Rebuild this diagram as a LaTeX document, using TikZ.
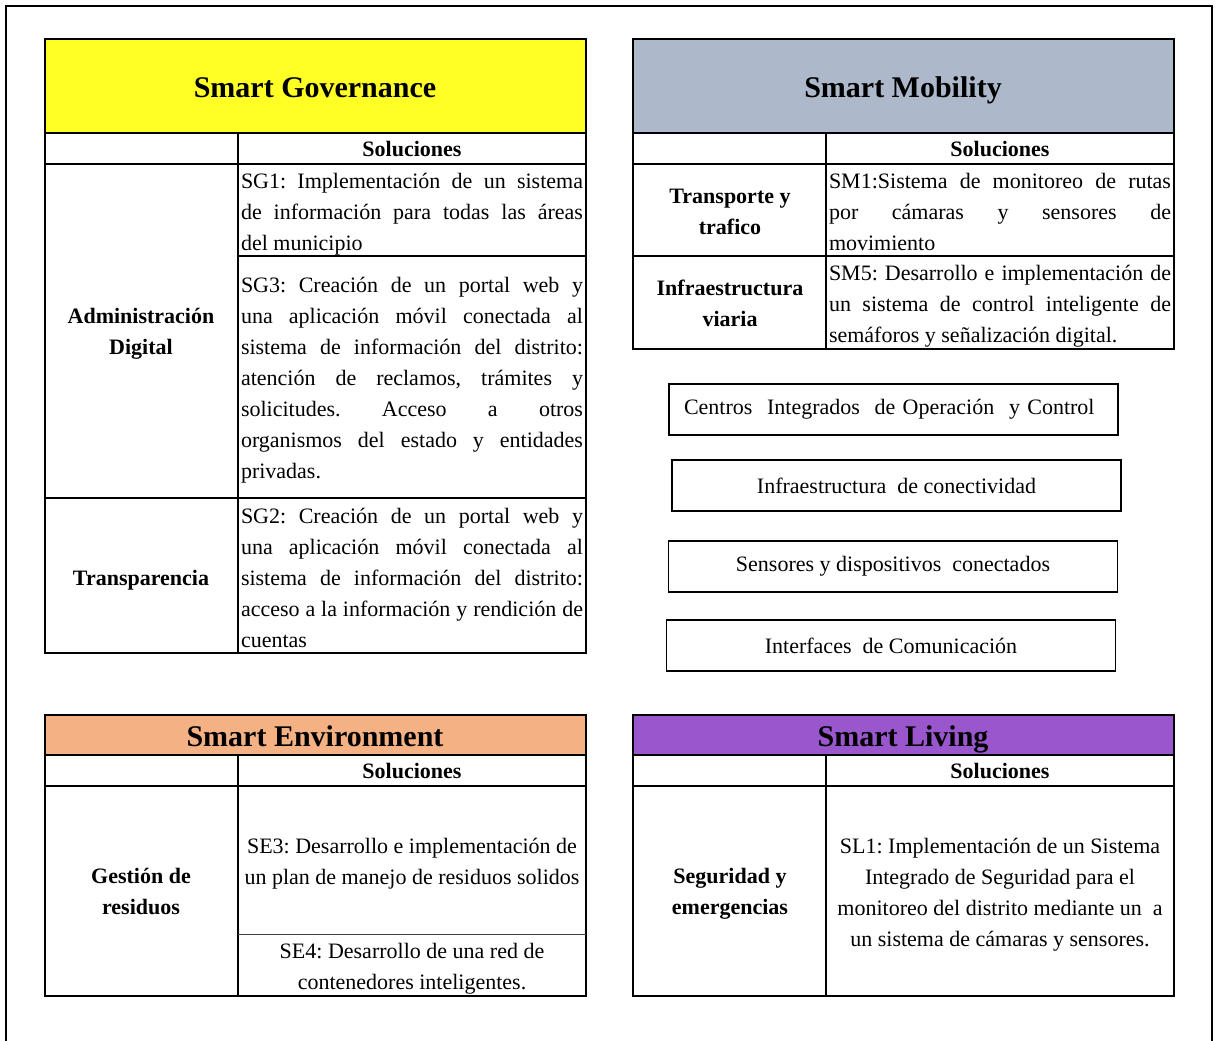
\documentclass[tikz,border=0pt]{standalone}
\usepackage{fontspec}
\setmainfont{Liberation Serif}
\frenchspacing

\definecolor{sgov}{HTML}{FFFF26}
\definecolor{smob}{HTML}{ADB9CA}
\definecolor{senv}{HTML}{F4B183}
\definecolor{sliv}{HTML}{9A57CD}

\newcommand{\jl}[1]{\makebox[342pt][s]{\spaceskip=0.25em plus 1fil\relax #1}}

\tikzset{
  tabline/.style={line width=1.7pt},
  normsp/.style={yshift=-1pt, execute at begin node={\spaceskip=0.25em plus 0.1em minus 0.05em\relax\strut},
    execute at end node={\strut}},
  title/.style={font=\fontsize{30}{36}\selectfont\bfseries, text height=21pt, text depth=6pt},
  head/.style={font=\fontsize{22}{31}\selectfont\bfseries},
  lab/.style={normsp, yshift=-4pt, font=\fontsize{22}{31}\selectfont\bfseries, align=center},
  txt/.style={normsp, font=\fontsize{22}{31}\selectfont, text width=342pt, align=left, inner sep=0pt},
  ctxt/.style={normsp, yshift=-4pt, font=\fontsize{22}{31}\selectfont, align=center, inner sep=0pt},
  box/.style={draw, line width=1.2pt, minimum width=449pt, minimum height=51pt, font=\fontsize{22}{31}\selectfont}
}

\begin{document}
\begin{tikzpicture}[x=1pt,y=-1pt]
\useasboundingbox (0,0) rectangle (1219,1041);
\draw[line width=2.5pt] (6,1041) -- (6,6) -- (1212,6) -- (1212,1041);

\fill[sgov] (45,39) rectangle (586,133);
\draw[tabline] (45,39) rectangle (586,653);
\draw[tabline] (45,133) -- (586,133) (45,164) -- (586,164) (238,133) -- (238,653)
  (238,256) -- (586,256) (45,498) -- (586,498);
\node[title] (sgt) at (315,90.5) {Smart Governance};
\node[head] (sgs) at (412,149) {Soluciones};
\node[lab] (sgad) at (141,331) {Administración\\Digital};
\node[lab] (sgtr) at (141,574) {Transparencia};
\node[txt] (sg1) at (412,212) {\jl{SG1: Implementación de un sistema}\\
  \jl{de información para todas las áreas}\\ del municipio};
\node[txt] (sg3) at (412,378) {\jl{SG3: Creación de un portal web y}\\
  \jl{una aplicación móvil conectada al}\\ \jl{sistema de información del distrito:}\\
  \jl{atención de reclamos, trámites y}\\ \jl{solicitudes. Acceso a otros}\\
  \jl{organismos del estado y entidades}\\ privadas.};
\node[txt] (sg2) at (412,578) {\jl{SG2: Creación de un portal web y}\\
  \jl{una aplicación móvil conectada al}\\ \jl{sistema de información del distrito:}\\
  \jl{acceso a la información y rendición de}\\ cuentas};

\fill[smob] (633,39) rectangle (1174,133);
\draw[tabline] (633,39) rectangle (1174,349);
\draw[tabline] (633,133) -- (1174,133) (633,164) -- (1174,164) (826,133) -- (826,349)
  (633,256) -- (1174,256);
\node[title] (smt) at (903,90) {Smart Mobility};
\node[head] (sms) at (1000,149) {Soluciones};
\node[lab] (smtr) at (730,211) {Transporte y\\trafico};
\node[lab] (smiv) at (730,303) {Infraestructura\\viaria};
\node[txt] (sm1) at (1000,212) {\jl{SM1:Sistema de monitoreo de rutas}\\
  \jl{por cámaras y sensores de}\\ movimiento};
\node[txt] (sm5) at (1000,304) {\jl{SM5: Desarrollo e implementación de}\\
  \jl{un sistema de control inteligente de}\\ semáforos y señalización digital.};

\node[box, text width=419pt, inner xsep=15pt, align=left] (cioc) at (893.5,409.5)
  {Centros \ Integrados \ de Operación \ y Control};
\node[box] (infc) at (896.5,485.5) {Infraestructura \ de conectividad};
\node[box] (sens) at (893,566.5) {Sensores y dispositivos \ conectados};
\node[box] (intc) at (891,645.5) {Interfaces \ de Comunicación};

\fill[senv] (45,715) rectangle (586,755);
\draw[tabline] (45,715) rectangle (586,996);
\draw[tabline] (45,755) -- (586,755) (45,786) -- (586,786) (238,755) -- (238,996);
\draw[line width=1pt, black!75] (238,934) -- (586,934);
\node[title] (set) at (315,738.5) {Smart Environment};
\node[head] (ses) at (412,771) {Soluciones};
\node[lab] (segr) at (141,891) {Gestión de\\residuos};
\node[ctxt] (se3) at (412,861) {SE3: Desarrollo e implementación de\\un plan de manejo de residuos solidos};
\node[ctxt] (se4) at (412,966) {SE4: Desarrollo de una red de\\contenedores inteligentes.};

\fill[sliv] (633,715) rectangle (1174,755);
\draw[tabline] (633,715) rectangle (1174,996);
\draw[tabline] (633,755) -- (1174,755) (633,786) -- (1174,786) (826,755) -- (826,996);
\node[title] (slt) at (903,738.5) {Smart Living};
\node[head] (sls) at (1000,771) {Soluciones};
\node[lab] (slse) at (730,891) {Seguridad y\\emergencias};
\node[ctxt] (sl1) at (1000,892) {SL1: Implementación de un Sistema\\Integrado de Seguridad para el\\
  monitoreo del distrito mediante un \ a\\un sistema de cámaras y sensores.};
\end{tikzpicture}
\end{document}
